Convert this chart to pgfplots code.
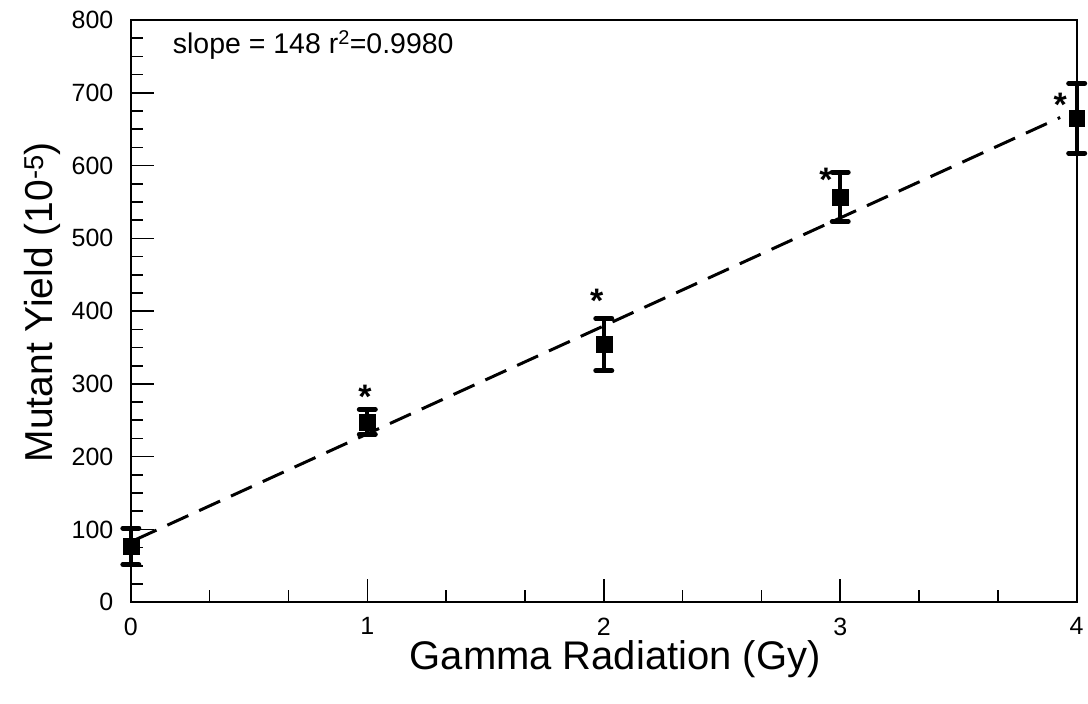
\documentclass[border=0pt]{standalone}
\usepackage{pgfplots}
\pgfplotsset{compat=1.18}
\usepackage{fontspec}
\setmainfont{Liberation Sans}
\begin{document}
\begin{tikzpicture}
\begin{axis}[
  scale only axis, width=947pt, height=583pt,
  xmin=0, xmax=4, ymin=0, ymax=800,
  xtick={0,1,2,3,4}, ytick={0,100,200,300,400,500,600,700,800},
  xticklabels={0,1,2,3,4},
  yticklabels={0,100,200,300,400,500,600,700,800},
  minor x tick num=2, minor y tick num=3,
  tick align=inside, xtick pos=bottom, ytick pos=left,
  major tick length=23pt, minor tick length=12pt,
  axis line style={line width=2pt},
  every tick/.style={line width=1.6pt, black},
  tick label style={font=\fontsize{25}{29}\selectfont},
  yticklabel style={xshift=-14pt},
  xticklabel style={yshift=-12pt},
  xlabel={Gamma Radiation (Gy)},
  ylabel={Mutant Yield (10\textsuperscript{-5})},
  every axis x label/.style={at={(axis description cs:0.512,-0.1149)}, anchor=base, font=\fontsize{40}{44}\selectfont},
  every axis y label/.style={at={(axis description cs:-0.0824,0.5154)}, anchor=base, rotate=90, font=\fontsize{39}{44}\selectfont},
  clip=false,
]
\addplot[black, line width=3pt, dash pattern=on 23pt off 12pt] coordinates {(0.02,86) (3.93,666)};
\addplot[black, only marks, mark=square*, mark size=8pt,
  error bars/.cd, y dir=both, y explicit, error mark=|,
  error bar style={line width=4pt, black},
  error mark options={line width=5pt, mark size=8pt, black, line cap=round}]
  table[x=x, y=y, y error=e] {
x y e
0 77 25
1 248 17
2 354 36
3 557 34
4 665 48
};
\addplot[black, only marks, mark=text, text mark={\fontsize{34}{34}\bfseries\selectfont *}]
  coordinates {(0.99,282) (1.97,414) (2.94,580) (3.93,684)};
\node[anchor=base west, font=\fontsize{28.5}{32}\selectfont] at (axis cs:0.163,754) {slope = 148 r\textsuperscript{2}=0.9980};
\end{axis}
\path ([xshift=-131pt,yshift=-101pt]current axis.south west) rectangle ([xshift=10pt,yshift=20pt]current axis.north east);
\end{tikzpicture}
\end{document}
